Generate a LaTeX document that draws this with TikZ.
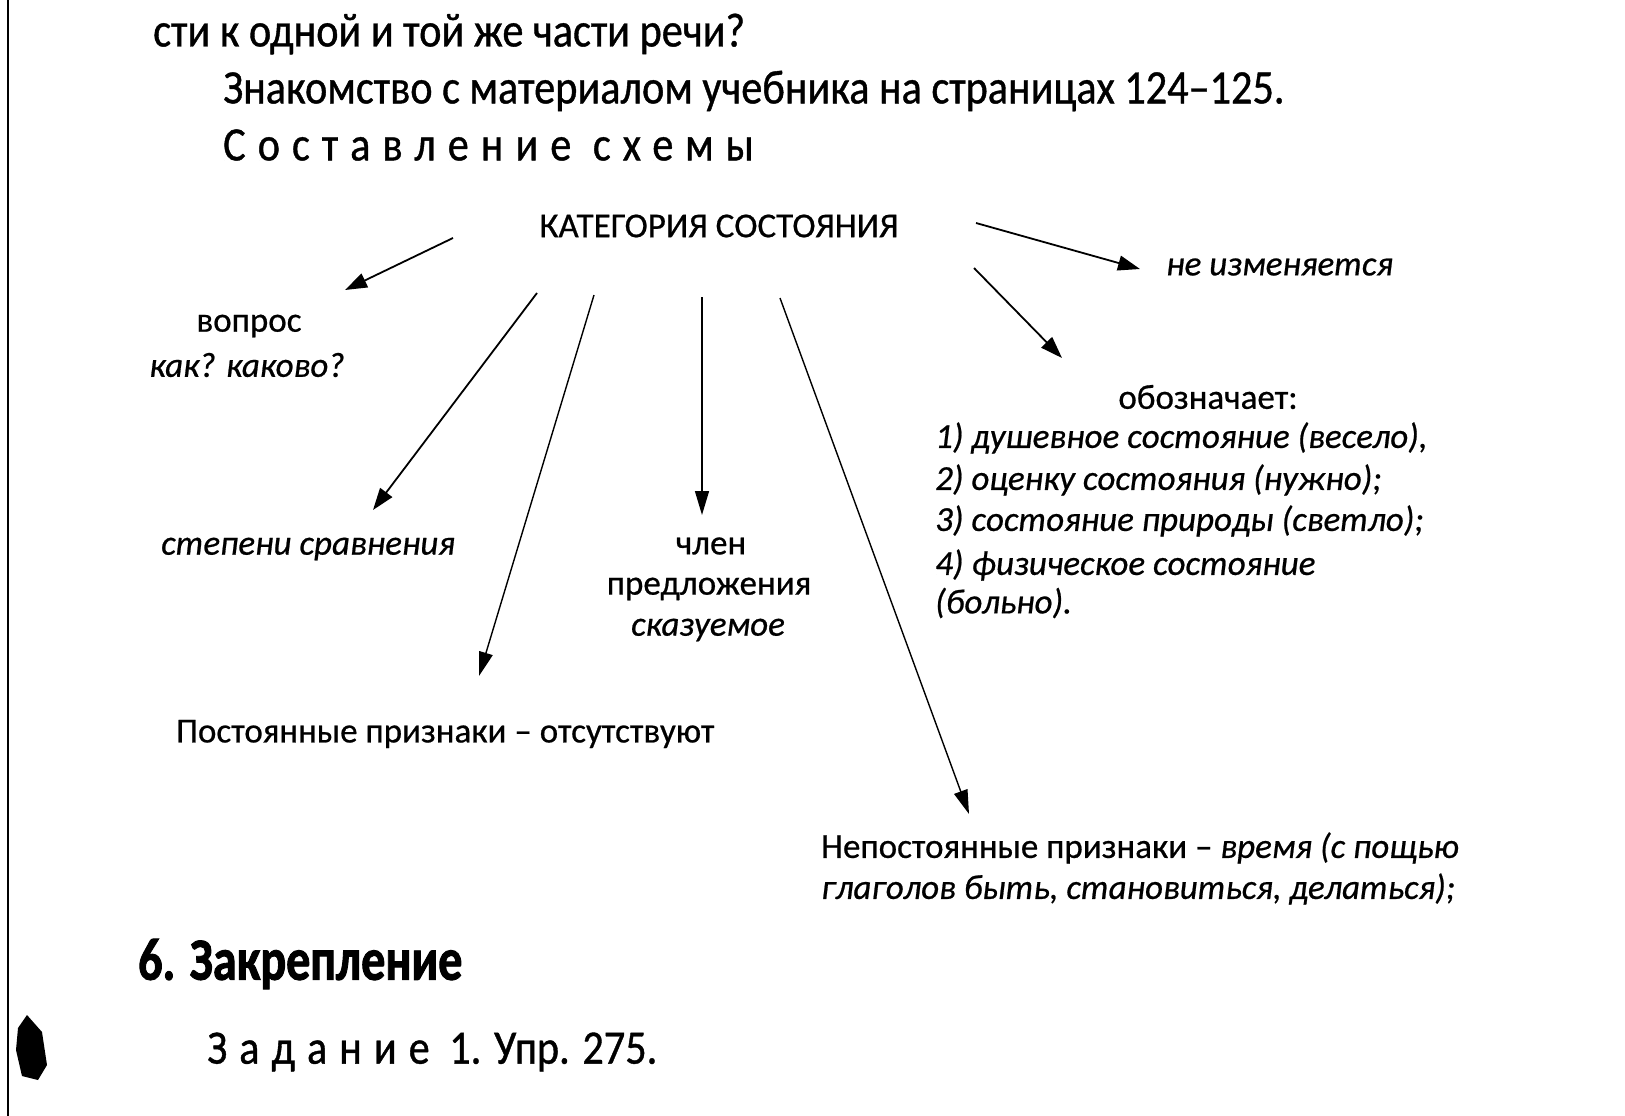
\documentclass[tikz,border=0pt]{standalone}
\usepackage{fontspec}
\setmainfont{Carlito}[FakeBold=0.6]
\newfontfamily\condf[FakeStretch=0.88,FakeBold=0.8]{Carlito}
\newfontfamily\spacedf[FakeStretch=0.88,LetterSpace=25,FakeBold=0.8]{Carlito}
\newfontfamily\boldf[FakeStretch=0.8,FakeBold=1.5]{Carlito}
\usetikzlibrary{arrows.meta}
\begin{document}
\begin{tikzpicture}[x=1pt,y=-1pt,
  txt/.style={inner sep=0pt, font=\fontsize{35}{42}\selectfont},
  itxt/.style={inner sep=0pt, font=\fontsize{35}{42}\selectfont\itshape},
  head/.style={inner sep=0pt, font=\condf\fontsize{48}{56}\selectfont},
  arr/.style={line width=1.8pt, -{Triangle[length=22pt,width=15pt]}},
  thinarr/.style={line width=1.4pt, -{Triangle[length=24pt,width=14pt]}}]
\useasboundingbox (0,0) rectangle (1625,1116);
\fill[white] (0,0) rectangle (1625,1116);
% page edge
\draw[line width=2pt] (8,0) -- (8,1116);
\fill[black] (18,1028) -- (27,1015) -- (42,1032) -- (47,1065) -- (38,1080) -- (22,1076) -- (16,1050) -- cycle;
% header text
\node[head, anchor=west] (l1) at (153,34) {сти к одной и той же части речи?};
\node[head, anchor=west] (l2) at (223,91) {Знакомство с материалом учебника на страницах 124–125.};
\node[head, anchor=west] (l3) at (223,145) {\spacedf Составление схемы};
% diagram
\node[txt] (cat) at (719,226) {КАТЕГОРИЯ СОСТОЯНИЯ};
\node[itxt, anchor=west] (neiz) at (1166,267) {не изменяется};
\node[txt] (vop) at (249,326) {вопрос};
\node[itxt] (kak) at (247,365) {как? каково?};
\node[itxt, anchor=west] (step) at (161,549) {степени сравнения};
\node[txt] (chl) at (711,546) {член};
\node[txt] (pred) at (709,589) {предложения};
\node[itxt] (skaz) at (708,630) {сказуемое};
\node[txt] (oboz) at (1208,397) {обозначает:};
\node[itxt, anchor=west] (o1) at (935,438) {1) душевное состояние (весело),};
\node[itxt, anchor=west] (o2) at (935,480) {2) оценку состояния (нужно);};
\node[itxt, anchor=west] (o3) at (935,521) {3) состояние природы (светло);};
\node[itxt, anchor=west] (o4) at (935,565) {4) физическое состояние};
\node[itxt, anchor=west] (o5) at (935,603) {(больно).};
\node[txt, anchor=west] (post) at (176,734) {Постоянные признаки – отсутствуют};
\node[txt, anchor=west] (nepost1) at (821,848) {Непостоянные признаки – \textit{время (с пощью}};
\node[itxt, anchor=west] (nepost2) at (821,889) {глаголов быть, становиться, делаться);};
% footer
\node[inner sep=0pt, anchor=west, font=\boldf\bfseries\fontsize{60}{70}\selectfont] (zak) at (138,964) {6. Закрепление};
\node[head, anchor=west] (zad) at (207,1052) {{\spacedf Задание}\hspace{10pt} 1. Упр. 275.};
% arrow endpoints
\coordinate (a1s) at (453,238); \coordinate (a1e) at (345,290);
\coordinate (a2s) at (537,293); \coordinate (a2e) at (373,510);
\coordinate (a3s) at (594,295); \coordinate (a3e) at (479,676);
\coordinate (a4s) at (702,297); \coordinate (a4e) at (702,515);
\coordinate (a5s) at (780,298); \coordinate (a5e) at (969,814);
\coordinate (a6s) at (976,223); \coordinate (a6e) at (1140,269);
\coordinate (a7s) at (974,268); \coordinate (a7e) at (1062,358);
\draw[arr] (a1s) -- (a1e);
\draw[arr] (a2s) -- (a2e);
\draw[thinarr] (a3s) -- (a3e);
\draw[thinarr] (a4s) -- (a4e);
\draw[thinarr] (a5s) -- (a5e);
\draw[arr] (a6s) -- (a6e);
\draw[arr] (a7s) -- (a7e);
\end{tikzpicture}
\end{document}
